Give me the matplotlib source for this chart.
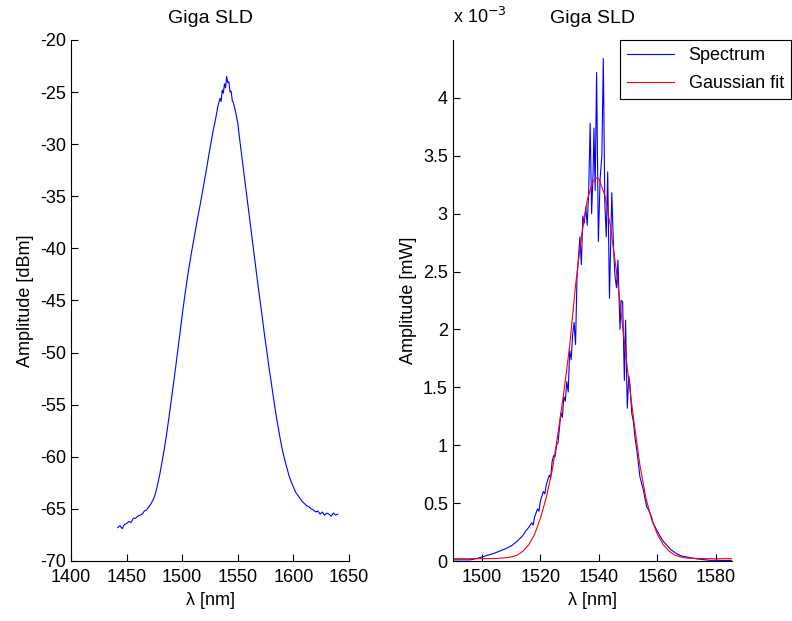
import matplotlib.pyplot as plt
import numpy as np

plt.rcParams['font.family'] = ['Liberation Sans', 'DejaVu Sans']
plt.rcParams['font.size'] = 13
plt.rcParams['axes.unicode_minus'] = False

# left panel: spectrum in dBm
wl_db = [1442, 1444, 1446, 1448, 1450, 1452, 1454, 1456, 1458, 1460,
         1462, 1464, 1466, 1468, 1470, 1472, 1474, 1476, 1478, 1480,
         1482, 1484, 1486, 1488, 1490, 1492, 1494, 1496, 1498, 1500,
         1502, 1504, 1506, 1508, 1510, 1512, 1514, 1516, 1518, 1520,
         1522, 1524, 1526, 1528, 1530, 1532, 1534, 1535, 1536, 1537,
         1538, 1539, 1540, 1541, 1542, 1543, 1544, 1545, 1546, 1548,
         1550, 1552, 1554, 1556, 1558, 1560, 1562, 1564, 1566, 1568,
         1570, 1572, 1574, 1576, 1578, 1580, 1582, 1584, 1586, 1588,
         1590, 1592, 1594, 1596, 1598, 1600, 1602, 1604, 1606, 1608,
         1610, 1612, 1614, 1616, 1618, 1620, 1622, 1624, 1626, 1628,
         1630, 1632, 1634, 1636, 1638, 1640]
amp_db = [-66.8, -66.6, -66.9, -66.5, -66.4, -66.2, -66.3, -65.9, -65.9, -65.7,
          -65.6, -65.5, -65.2, -65.1, -64.8, -64.5, -64.1, -63.5, -62.6, -61.6,
          -60.4, -59.2, -57.8, -56.3, -54.7, -53.1, -51.5, -49.8, -48.1, -46.4,
          -44.8, -43.3, -41.9, -40.6, -39.4, -38.2, -37.0, -35.9, -34.7, -33.5,
          -32.3, -31.0, -29.8, -28.6, -27.6, -26.4, -25.6, -25.9, -24.8, -25.1,
          -24.2, -24.6, -23.5, -24.1, -24.0, -25.0, -24.9, -25.8, -26.0, -26.9,
          -28.0, -29.8, -31.5, -33.2, -34.9, -36.6, -38.3, -40.0, -41.7, -43.4,
          -45.0, -46.6, -48.3, -49.8, -51.4, -52.8, -54.3, -55.7, -57.0, -58.2,
          -59.3, -60.2, -61.0, -61.8, -62.4, -62.9, -63.4, -63.7, -64.0, -64.3,
          -64.5, -64.7, -64.8, -65.0, -65.1, -65.3, -65.2, -65.5, -65.3, -65.6,
          -65.4, -65.5, -65.7, -65.4, -65.6, -65.5]

# right panel: spectrum in mW (x 1e-3)
wl_lin = [1490, 1492, 1494, 1496, 1497, 1498, 1500, 1502, 1504, 1506,
          1508, 1510, 1512, 1514, 1515, 1516, 1517, 1517.5, 1518, 1519,
          1519.5, 1520, 1521, 1521.5, 1522, 1523, 1523.5, 1524, 1524.5, 1525,
          1525.5, 1526, 1526.5, 1527, 1527.5, 1528, 1528.5, 1529, 1529.5, 1530,
          1530.5, 1531, 1531.5, 1532, 1532.5, 1533, 1533.5, 1534, 1534.5, 1535,
          1535.5, 1536, 1536.5, 1537, 1537.5, 1538, 1538.3, 1538.7, 1539.2, 1539.8,
          1540.4, 1541, 1541.5, 1542, 1542.5, 1543, 1543.6, 1544.4, 1545, 1545.5,
          1546, 1546.5, 1547.2, 1547.6, 1548.1, 1548.7, 1549.1, 1549.7, 1550.2, 1550.6,
          1551.2, 1551.8, 1552.3, 1553.1, 1554, 1555.2, 1556.3, 1557, 1558, 1558.5,
          1559.7, 1561, 1562, 1563.1, 1564.5, 1566.5, 1568, 1570, 1571, 1573,
          1575.6, 1578, 1580, 1582, 1585.5]
amp_lin = [0.01, 0.01, 0.01, 0.01, 0.015, 0.02, 0.035, 0.05, 0.065, 0.085,
           0.105, 0.13, 0.17, 0.22, 0.26, 0.29, 0.33, 0.31, 0.38, 0.45,
           0.43, 0.52, 0.60, 0.58, 0.66, 0.74, 0.72, 0.86, 0.91, 0.90,
           1.00, 1.02, 1.15, 1.28, 1.24, 1.42, 1.38, 1.55, 1.46, 1.82,
           1.74, 1.95, 2.06, 1.87, 2.45, 2.62, 2.80, 2.56, 2.98, 2.92,
           3.06, 2.90, 3.20, 3.78, 3.00, 3.35, 3.74, 3.20, 4.22, 2.76,
           3.30, 3.50, 4.34, 3.10, 2.80, 3.36, 2.27, 3.18, 2.70, 2.46,
           2.36, 2.60, 2.00, 2.25, 2.24, 1.56, 2.08, 1.32, 1.60, 1.53,
           1.28, 1.20, 1.07, 0.93, 0.73, 0.61, 0.47, 0.44, 0.38, 0.33,
           0.27, 0.21, 0.17, 0.14, 0.10, 0.064, 0.045, 0.035, 0.03, 0.02,
           0.012, 0.006, 0.006, 0.005, 0.005]

# gaussian fit
wl_fit = [1490, 1500, 1505, 1508, 1510, 1512, 1514, 1516, 1518, 1520,
          1522, 1524, 1526, 1528, 1530, 1532, 1534, 1536, 1538, 1539,
          1540, 1542, 1544, 1546, 1548, 1550, 1552, 1554, 1556, 1558,
          1560, 1562, 1564, 1566, 1568, 1570, 1575, 1580, 1585.5]
amp_fit = [0.02, 0.02, 0.022, 0.028, 0.035, 0.05, 0.085, 0.14, 0.23, 0.37,
           0.55, 0.78, 1.10, 1.46, 1.86, 2.38, 2.80, 3.12, 3.28, 3.31,
           3.30, 3.16, 2.88, 2.50, 2.05, 1.60, 1.20, 0.83, 0.55, 0.36,
           0.23, 0.14, 0.085, 0.05, 0.035, 0.025, 0.021, 0.02, 0.02]

fig = plt.figure(figsize=(7.92, 6.21), dpi=100)
ax1 = fig.add_axes([71/792, 60/621, 278/792, 521/621])
ax2 = fig.add_axes([452.7/792, 60/621, 279.3/792, 521/621])

ax1.plot(wl_db, amp_db, color='blue', lw=0.8)
ax1.set_xlim(1400, 1650)
ax1.set_ylim(-70, -20)
ax1.set_xticks(np.arange(1400, 1651, 50))
ax1.set_yticks(np.arange(-70, -19, 5))
ax1.set_xlabel('λ [nm]')
ax1.set_ylabel('Amplitude [dBm]')
ax1.set_title('Giga SLD', pad=12, fontsize=14)

ax2.plot(wl_lin, amp_lin, color='blue', lw=0.8, label='Spectrum')
ax2.plot(wl_fit, amp_fit, color='red', lw=0.8, label='Gaussian fit')
ax2.set_xlim(1490, 1585.5)
ax2.set_ylim(0, 4.5)
ax2.set_xticks(np.arange(1500, 1581, 20))
ax2.set_yticks(np.arange(0, 4.01, 0.5))
ax2.set_yticklabels(['0', '0.5', '1', '1.5', '2', '2.5', '3', '3.5', '4'])
ax2.set_xlabel('λ [nm]')
ax2.set_ylabel('Amplitude [mW]')
ax2.set_title('Giga SLD', pad=12, fontsize=14)
ax2.text(0.0, 1.025, 'x 10$^{-3}$', transform=ax2.transAxes, ha='left', va='bottom')

leg = ax2.legend(loc='upper right', bbox_to_anchor=(791/792, 581/621),
                 bbox_transform=fig.transFigure, borderaxespad=0,
                 fancybox=False, edgecolor='black', framealpha=1,
                 handlelength=2.6, labelspacing=0.6, fontsize=13)
leg.get_frame().set_linewidth(0.8)

for ax in (ax1, ax2):
    ax.spines['top'].set_visible(False)
    ax.spines['right'].set_visible(False)
    ax.tick_params(direction='in', length=5, width=0.8)
    ax.tick_params(axis='x', pad=6)

fig.savefig('out.png', dpi=100)
